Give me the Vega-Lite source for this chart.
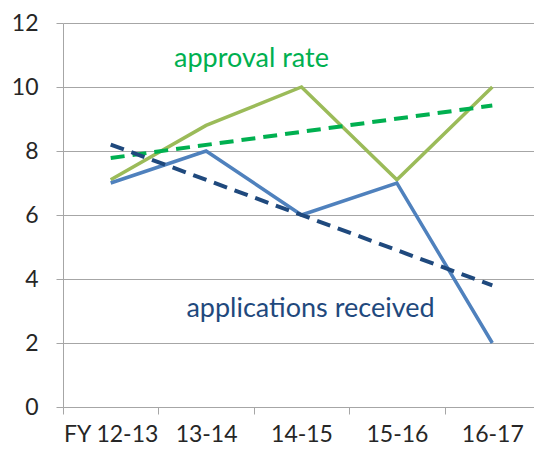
{
  "$schema": "https://vega.github.io/schema/vega-lite/v6.json",
  "width": 471,
  "height": 384,
  "autosize": "none",
  "padding": {"left": 63, "top": 23, "right": 0, "bottom": 45},
  "background": "white",
  "config": {
    "view": {"stroke": null},
    "font": "Lato",
    "axis": {"labelFont": "Lato", "labelFontSize": 23, "labelColor": "#262626"}
  },
  "datasets": {
    "series": [
      {"year": "FY 12-13", "series": "approval", "value": 7.1},
      {"year": "13-14", "series": "approval", "value": 8.8},
      {"year": "14-15", "series": "approval", "value": 10},
      {"year": "15-16", "series": "approval", "value": 7.1},
      {"year": "16-17", "series": "approval", "value": 10},
      {"year": "FY 12-13", "series": "applications", "value": 7},
      {"year": "13-14", "series": "applications", "value": 8},
      {"year": "14-15", "series": "applications", "value": 6},
      {"year": "15-16", "series": "applications", "value": 7},
      {"year": "16-17", "series": "applications", "value": 2}
    ],
    "trends": [
      {"year": "FY 12-13", "series": "approval trend", "value": 7.78},
      {"year": "16-17", "series": "approval trend", "value": 9.42},
      {"year": "FY 12-13", "series": "applications trend", "value": 8.2},
      {"year": "16-17", "series": "applications trend", "value": 3.8}
    ],
    "label1": [
      {"year": "14-15", "label": "approval rate", "value": 10.88, "series": "approval trend"}
    ],
    "label2": [
      {"year": "14-15", "label": "applications received", "value": 3.07, "series": "applications trend"}
    ]
  },
  "encoding": {
    "x": {
      "field": "year",
      "type": "ordinal",
      "sort": ["FY 12-13", "13-14", "14-15", "15-16", "16-17"],
      "bandPosition": 0.5,
      "scale": {"type": "band", "paddingInner": 0, "paddingOuter": 0, "range": [0, 477], "domain": ["FY 12-13", "13-14", "14-15", "15-16", "16-17"]},
      "axis": {
        "title": null,
        "labelAngle": 0,
        "tickBand": "extent",
        "domainColor": "#a6a6a6",
        "tickColor": "#a6a6a6",
        "tickSize": 7,
        "labelPadding": 9,
        "grid": false
      }
    },
    "y": {
      "field": "value",
      "type": "quantitative",
      "scale": {"domain": [0, 12], "nice": false, "zero": true},
      "axis": {
        "title": null,
        "values": [0, 2, 4, 6, 8, 10, 12],
        "grid": true,
        "gridColor": "#a6a6a6",
        "domainColor": "#a6a6a6",
        "tickColor": "#a6a6a6",
        "tickSize": 7,
        "labelPadding": 18
      }
    },
    "color": {
      "field": "series",
      "type": "nominal",
      "legend": null,
      "scale": {
        "domain": ["approval", "applications", "approval trend", "applications trend"],
        "range": ["#9bbb59", "#4f81bd", "#00b050", "#1f497d"]
      }
    }
  },
  "layer": [
    {
      "data": {"name": "series"},
      "mark": {"type": "line", "strokeWidth": 3.5},
      "encoding": {"detail": {"field": "series"}}
    },
    {
      "data": {"name": "trends"},
      "mark": {"type": "line", "strokeWidth": 4, "strokeDash": [14, 8]},
      "encoding": {"detail": {"field": "series"}}
    },
    {
      "data": {"name": "label1"},
      "mark": {"type": "text", "fontSize": 27, "align": "center", "baseline": "middle", "dx": -50},
      "encoding": {"text": {"field": "label"}}
    },
    {
      "data": {"name": "label2"},
      "mark": {"type": "text", "fontSize": 27, "align": "center", "baseline": "middle", "dx": 9},
      "encoding": {"text": {"field": "label"}}
    }
  ]
}
